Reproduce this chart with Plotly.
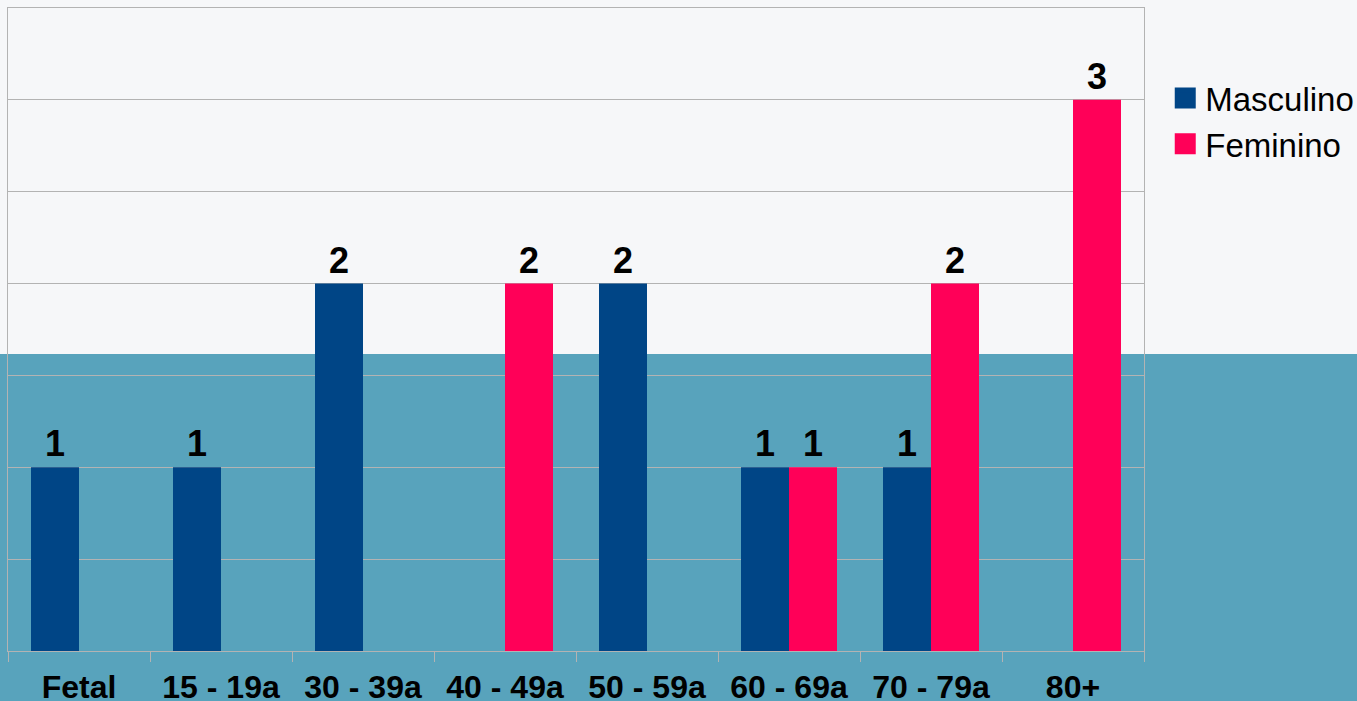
import plotly.graph_objects as go

faixas = ["Fetal", "15 - 19a", "30 - 39a", "40 - 49a", "50 - 59a", "60 - 69a", "70 - 79a", "80+"]
masculino = [1, 1, 2, 0, 2, 1, 1, 0]
feminino = [0, 0, 0, 2, 0, 1, 2, 3]

azul = "#004586"
rosa = "#ff0058"
fundo = "#f6f7f9"
teal = "#58a3bc"
grade = "#b3b3b3"

fig = go.Figure()

for nome, valores, cor in [("Masculino", masculino, azul), ("Feminino", feminino, rosa)]:
    fig.add_trace(go.Bar(
        x=faixas,
        y=valores,
        name=nome,
        marker=dict(color=cor, line=dict(width=0)),
        text=[str(v) if v else "" for v in valores],
        textposition="outside",
        textfont=dict(family="Liberation Sans", size=36, color="black", weight="bold"),
        constraintext="none",
        cliponaxis=False,
        showlegend=False,
    ))
    # entrada de legenda com quadrado maior
    fig.add_trace(go.Scatter(
        x=[None], y=[None], mode="markers", name=nome,
        marker=dict(symbol="square", size=16, color=cor, line=dict(width=5, color=cor)),
    ))

# faixa azul-esverdeada atrás do gráfico
fig.add_shape(type="rect", xref="paper", yref="paper",
              x0=-0.1, x1=1.3, y0=-0.2, y1=(651 - 354) / 643,
              fillcolor=teal, line=dict(width=0), layer="below")

fig.update_layout(
    width=1357,
    height=701,
    margin=dict(l=8, r=213, t=8, b=50, autoexpand=False),
    paper_bgcolor=fundo,
    plot_bgcolor=fundo,
    barmode="group",
    bargap=0.324,
    bargroupgap=0,
    font=dict(family="Liberation Sans", color="black"),
    legend=dict(
        x=1.0187, y=0.9036, xanchor="left", yanchor="top",
        font=dict(size=33, color="black"),
        bgcolor="rgba(0,0,0,0)",
    ),
    xaxis=dict(
        showline=True, linecolor=grade, linewidth=1, mirror=True,
        ticks="outside", tickson="boundaries", ticklen=10, tickcolor=grade,
        tickfont=dict(size=32, color="black", weight="bold"),
        ticklabelstandoff=8, automargin=False,
        showgrid=False,
    ),
    yaxis=dict(
        range=[0, 3.5], dtick=0.5, showticklabels=False,
        showgrid=True, gridcolor=grade, zeroline=False,
        showline=True, linecolor=grade, mirror=True, automargin=False,
    ),
)

fig.write_html(
    "out.html",
    config={"responsive": False, "displayModeBar": False},
    post_script="document.body.style.margin='0';document.body.style.overflow='hidden';",
)
